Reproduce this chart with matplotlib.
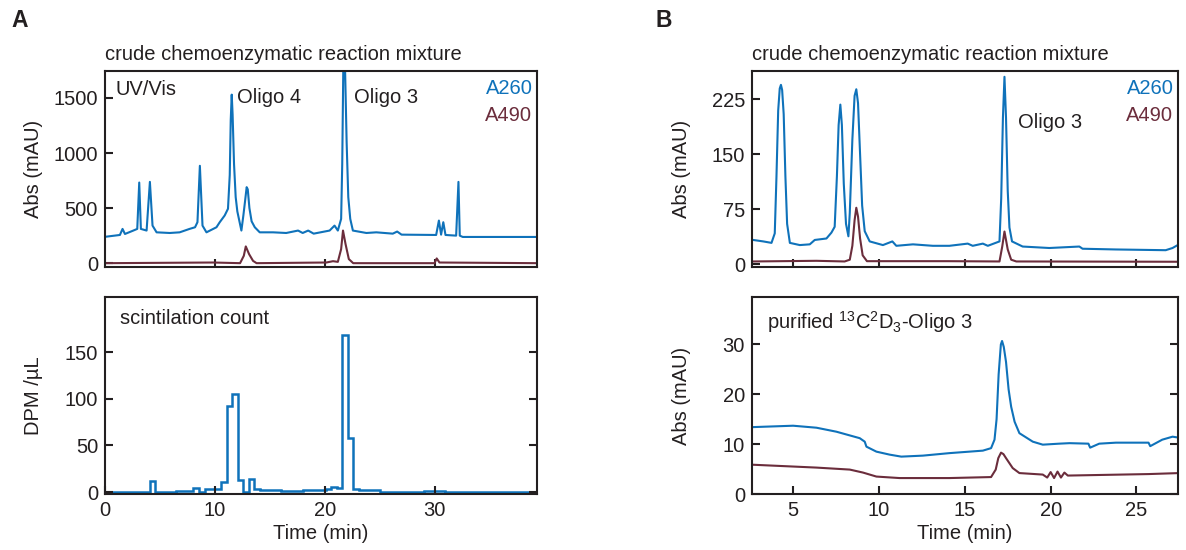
import matplotlib
matplotlib.use("Agg")
import matplotlib.pyplot as plt

plt.rcParams["font.family"] = ["Liberation Sans", "DejaVu Sans"]
plt.rcParams["mathtext.fontset"] = "custom"
plt.rcParams["mathtext.rm"] = "Liberation Sans"
plt.rcParams["mathtext.it"] = "Liberation Sans:italic"
plt.rcParams["font.size"] = 14.5

BLUE = "#0F72BA"
MAROON = "#6B2D3C"
TXT = "#231F20"

# ---- Panel A, top: crude mixture, A260 / A490 (mAU) ----
a_t260 = [0.15, 1.36, 1.6, 1.82, 2.58, 2.94, 3.12, 3.27, 3.79, 4.09, 4.33, 4.7,
          5.9, 6.8, 7.7, 8.2, 8.42, 8.64, 8.88, 9.24, 10.15, 10.45, 10.9, 11.2,
          11.36, 11.45, 11.54, 11.62, 11.75, 11.9, 12.05, 12.42, 12.6, 12.75,
          12.9, 13.0, 13.15, 13.35, 13.64, 14.09, 15.3, 16.5, 17.58, 18.0,
          18.5, 19.0, 20.45, 20.9, 21.2, 21.5, 21.6, 21.7, 21.85, 22.0, 22.15,
          22.33, 22.57, 23.8, 24.7, 26.2, 26.6, 27.0, 30.15, 30.4, 30.6, 30.8,
          31.0, 31.97, 32.18, 32.3, 32.57, 39.3]
a_v260 = [241, 256, 311, 265, 296, 311, 732, 311, 296, 738, 341, 280,
          274, 280, 311, 326, 372, 884, 341, 280, 326, 372, 433, 494,
          800, 1300, 1530, 1350, 900, 600, 470, 296, 433, 560,
          690, 670, 500, 380, 326, 280, 280, 274, 296, 274,
          296, 268, 296, 341, 296, 402, 900, 1800, 1800, 1100, 600,
          402, 296, 274, 280, 268, 287, 259, 256, 387, 259, 372,
          256, 250, 738, 250, 238, 238]
a_t490 = [0.15, 9.85, 12.3, 12.64, 12.82, 13.12, 13.48, 13.8, 20.15, 20.76,
          21.2, 21.5, 21.67, 21.9, 22.2, 22.6, 30.0, 30.2, 30.45, 39.3]
a_v490 = [0, 6, 0, 67, 152, 82, 21, 0, 6, 18,
          12, 128, 296, 174, 37, 0, 0, 43, 6, 0]

# ---- Panel A, bottom: scintillation count per fraction (DPM/uL) ----
frac_edges = [0, 4.1, 4.6, 6.5, 8.0, 8.6, 9.1, 10.6, 11.1, 11.6, 12.1, 12.6,
              13.1, 13.6, 14.1, 16.0, 18.0, 20.1, 20.6, 21.1, 21.6, 22.1,
              22.6, 23.1, 25.0, 27.0, 29.0, 31.0, 39.3]
frac_dpm = [0, 12, 0, 1, 4, 0, 3, 11, 92, 105, 13, 0,
            14, 3, 2, 1, 2, 3, 6, 4, 168, 58,
            3, 2, 0, 0, 1, 0]

# ---- Panel B, top: crude mixture (mAU) ----
b_t260 = [2.67, 3.26, 3.74, 3.93, 4.03, 4.13, 4.22, 4.29, 4.36, 4.45, 4.55,
          4.65, 4.81, 5.39, 5.97, 6.26, 6.94, 7.23, 7.42, 7.55, 7.65, 7.75,
          7.84, 7.95, 8.08, 8.22, 8.3, 8.45, 8.58, 8.68, 8.78, 8.9, 9.02,
          9.17, 9.46, 10.23, 10.78, 11.01, 11.98, 13.14, 14.1, 15.17, 15.46,
          16.05, 16.34, 17.02, 17.12, 17.22, 17.31, 17.4, 17.5, 17.6, 17.75,
          18.37, 19.92, 21.67, 21.86, 23.8, 26.7, 27.1, 27.4]
b_v260 = [33, 31, 29, 42, 120, 210, 240, 245, 238, 205, 120,
          55, 29, 26, 27, 33, 35, 43, 51, 120, 190, 218,
          190, 110, 55, 38, 70, 170, 230, 239, 220, 150, 80,
          45, 31, 26, 31, 25, 27, 25, 25, 28, 25,
          28, 25, 31, 90, 200, 256, 200, 100, 50, 31,
          24, 22, 24, 21, 20, 19, 22, 26]
b_t490 = [2.67, 6.36, 8.0, 8.3, 8.45, 8.58, 8.68, 8.78, 8.9, 9.05, 9.3, 14.0,
          17.02, 17.18, 17.31, 17.5, 17.7, 18.0, 27.4]
b_v490 = [3.6, 4.5, 3.6, 6, 25, 60, 77, 65, 35, 12, 4, 4,
          3.6, 24, 44.5, 20, 6, 3.6, 3.2]

# ---- Panel B, bottom: purified 13C2D3-Oligo 3 (mAU) ----
p_t260 = [2.48, 5.0, 6.36, 7.52, 8.88, 9.17, 9.27, 9.85, 10.62, 11.3, 12.56,
          14.1, 16.05, 16.53, 16.73, 16.85, 16.97, 17.1, 17.17, 17.27, 17.4,
          17.55, 17.7, 17.9, 18.18, 18.96, 19.54, 20.5, 21.1, 22.2, 22.3,
          22.83, 23.8, 25.7, 25.8, 26.5, 27.1, 27.48]
p_v260 = [13.4, 13.7, 13.3, 12.5, 11.2, 10.5, 9.5, 8.5, 7.9, 7.5, 7.7,
          8.2, 8.7, 9.2, 10.9, 15, 24, 30, 30.7, 29.5, 26.5,
          21, 17.5, 14.5, 12.2, 10.5, 9.9, 10.1, 10.2, 10.1, 9.3,
          10.1, 10.3, 10.3, 9.6, 10.9, 11.5, 11.3]
p_t490 = [2.48, 6.36, 8.3, 9.07, 9.85, 11.2, 14.1, 16.53, 16.8, 16.95, 17.11,
          17.25, 17.4, 17.79, 18.18, 19.54, 19.8, 20.0, 20.2, 20.4, 20.6,
          20.8, 21.0, 25.7, 27.48]
p_v490 = [5.9, 5.3, 4.9, 4.3, 3.5, 3.2, 3.2, 3.4, 4.9, 7.2, 8.3,
          8.0, 7.2, 5.2, 4.2, 3.9, 3.3, 4.4, 3.2, 4.5, 3.3,
          4.3, 3.7, 4.0, 4.2]


def style_axes(ax, right=False):
    for s in ax.spines.values():
        s.set_linewidth(1.5)
        s.set_color(TXT)
    ax.tick_params(direction="in", length=6, width=1.5, colors=TXT,
                   labelsize=14.5, right=right, top=False, pad=5)


fig = plt.figure(figsize=(11.86, 5.5), dpi=100)

axA1 = fig.add_axes([0.0885, 0.5145, 0.364, 0.3565])
axA2 = fig.add_axes([0.0885, 0.1018, 0.364, 0.358])
axB1 = fig.add_axes([0.634, 0.5145, 0.359, 0.3565])
axB2 = fig.add_axes([0.634, 0.1018, 0.359, 0.358])

# A top
axA1.plot(a_t260, a_v260, color=BLUE, lw=1.5, zorder=2)
axA1.plot(a_t490, a_v490, color=MAROON, lw=1.5, zorder=2)
axA1.set_xlim(0, 39.3)
axA1.set_ylim(-35, 1745)
axA1.set_yticks([0, 500, 1000, 1500])
axA1.set_xticks([10, 20, 30])
axA1.set_xticklabels([])
style_axes(axA1)
axA1.set_ylabel("Abs (mAU)", color=TXT)
axA1.yaxis.set_label_coords(-0.143, 0.5)
axA1.text(0.0, 1.035, "crude chemoenzymatic reaction mixture",
          transform=axA1.transAxes, ha="left", va="bottom", color=TXT)
axA1.text(0.025, 0.955, "UV/Vis", transform=axA1.transAxes, ha="left",
          va="top", color=TXT)
axA1.text(12.0, 1500, "Oligo 4", ha="left", va="center", color=TXT)
axA1.text(22.7, 1500, "Oligo 3", ha="left", va="center", color=TXT)
axA1.text(0.99, 0.96, "A260", transform=axA1.transAxes, ha="right",
          va="top", color=BLUE)
axA1.text(0.99, 0.82, "A490", transform=axA1.transAxes, ha="right",
          va="top", color=MAROON)

# A bottom
axA2.stairs(frac_dpm, frac_edges, color=BLUE, lw=1.8)
axA2.set_xlim(0, 39.3)
axA2.set_ylim(-2, 209)
axA2.set_yticks([0, 50, 100, 150])
axA2.set_xticks([0, 10, 20, 30])
style_axes(axA2, right=True)
axA2.set_ylabel("DPM /µL", color=TXT)
axA2.yaxis.set_label_coords(-0.143, 0.5)
axA2.set_xlabel("Time (min)", color=TXT, labelpad=3)
axA2.text(0.035, 0.94, "scintilation count", transform=axA2.transAxes,
          ha="left", va="top", color=TXT)

# B top
axB1.plot(b_t260, b_v260, color=BLUE, lw=1.5, zorder=2)
axB1.plot(b_t490, b_v490, color=MAROON, lw=1.5, zorder=2)
axB1.set_xlim(2.6, 27.4)
axB1.set_ylim(-4, 264)
axB1.set_yticks([0, 75, 150, 225])
axB1.set_xticks([5, 10, 15, 20, 25])
axB1.set_xticklabels([])
style_axes(axB1)
axB1.set_ylabel("Abs (mAU)", color=TXT)
axB1.yaxis.set_label_coords(-0.143, 0.5)
axB1.text(0.0, 1.035, "crude chemoenzymatic reaction mixture",
          transform=axB1.transAxes, ha="left", va="bottom", color=TXT)
axB1.text(18.1, 194, "Oligo 3", ha="left", va="center", color=TXT)
axB1.text(0.99, 0.96, "A260", transform=axB1.transAxes, ha="right",
          va="top", color=BLUE)
axB1.text(0.99, 0.82, "A490", transform=axB1.transAxes, ha="right",
          va="top", color=MAROON)

# B bottom
axB2.plot(p_t260, p_v260, color=BLUE, lw=1.5, zorder=2)
axB2.plot(p_t490, p_v490, color=MAROON, lw=1.5, zorder=2)
axB2.set_xlim(2.6, 27.4)
axB2.set_ylim(0, 39.5)
axB2.set_yticks([0, 10, 20, 30])
axB2.set_xticks([5, 10, 15, 20, 25])
style_axes(axB2, right=True)
axB2.set_ylabel("Abs (mAU)", color=TXT)
axB2.yaxis.set_label_coords(-0.143, 0.5)
axB2.set_xlabel("Time (min)", color=TXT, labelpad=3)
axB2.text(0.035, 0.94, r"purified $^{13}$C$^{2}$D$_{3}$-Oligo 3",
          transform=axB2.transAxes, ha="left", va="top", color=TXT)

fig.text(0.010, 0.963, "A", fontsize=16.5, fontweight="bold", color=TXT,
         ha="left", va="center")
fig.text(0.553, 0.963, "B", fontsize=16.5, fontweight="bold", color=TXT,
         ha="left", va="center")

fig.savefig("out.png", dpi=100)
